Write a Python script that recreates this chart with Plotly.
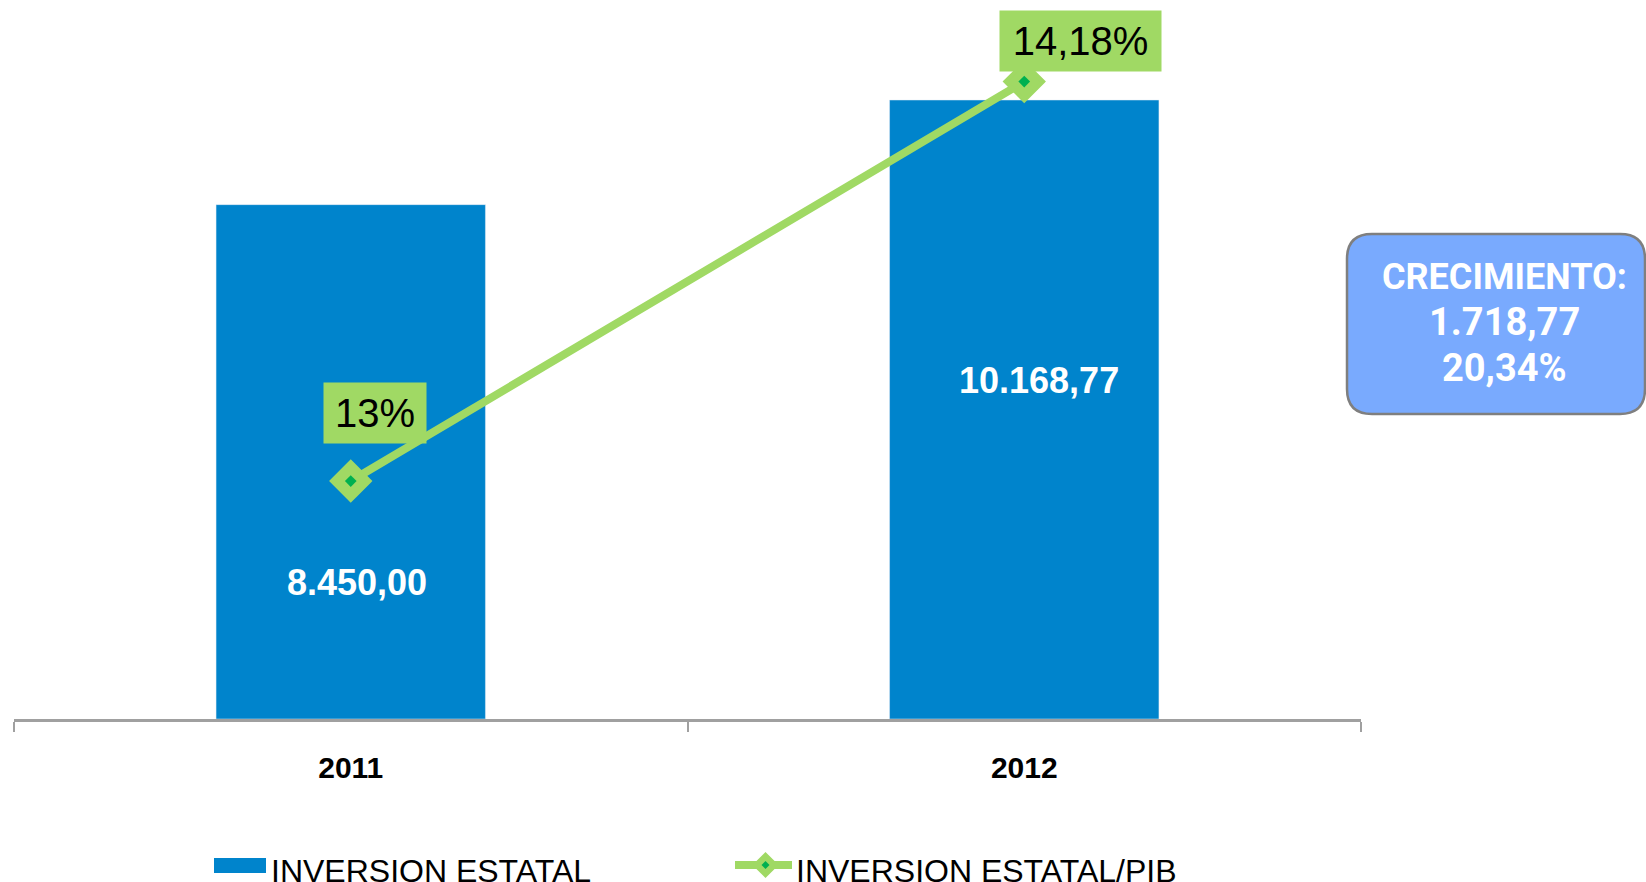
import plotly.graph_objects as go

# ---- data ----
years = ["2011", "2012"]
inversion = [8450.00, 10168.77]
inversion_labels = ["8.450,00", "10.168,77"]
pib_ratio = [13.00, 14.18]
pib_labels = ["13%", "14,18%"]
growth_lines = ["CRECIMIENTO:", "1.718,77", "20,34%"]
legend_names = ["INVERSION ESTATAL", "INVERSION ESTATAL/PIB"]

# ---- style ----
W, H = 1646, 882
L, R, T, B = 14, 285, 0, 163
PW, PH = W - L - R, H - T - B
BLUE = "#0084CC"
GREEN = "#A0D964"
DKGREEN = "#00B050"
AXIS_GRAY = "#A0A0A0"
ARIAL = "Liberation Sans, Arial, sans-serif"

def px2x(px):
    return (px - L) / PW

def py2y(py):
    return (H - B - py) / PH

fig = go.Figure()

fig.add_trace(go.Bar(
    x=years, y=inversion, name=legend_names[0], marker_color=BLUE,
    width=0.4, showlegend=False, hoverinfo="skip"))

fig.add_trace(go.Scatter(
    x=years, y=pib_ratio, name=legend_names[1], yaxis="y2",
    mode="lines+markers",
    line=dict(color=GREEN, width=8),
    marker=dict(symbol="diamond", size=29, color=GREEN,
                line=dict(color=GREEN, width=4)),
    showlegend=False, hoverinfo="skip"))

fig.add_trace(go.Scatter(
    x=years, y=pib_ratio, yaxis="y2", mode="markers",
    marker=dict(symbol="diamond", size=9, color=DKGREEN),
    showlegend=False, hoverinfo="skip"))

annotations = []
# bar value labels (pixel offsets from bar tops)
bar_label_shift = [(6, -378), (15, -280)]
for i, (v, lab, (dx, dy)) in enumerate(zip(inversion, inversion_labels, bar_label_shift)):
    annotations.append(dict(
        x=i, y=v, xref="x", yref="y", text=lab, showarrow=False,
        xshift=dx, yshift=dy, xanchor="center", yanchor="middle",
        font=dict(family=ARIAL, size=36, color="white", weight="bold")))

# ratio labels in green boxes
ratio_label_style = [(24, 68, 102, 60), (56, 41, 161, 60)]
for i, (v, lab, (dx, dy, bw, bh)) in enumerate(zip(pib_ratio, pib_labels, ratio_label_style)):
    annotations.append(dict(
        x=i, y=v, xref="x", yref="y2", text=lab, showarrow=False,
        xshift=dx, yshift=dy, xanchor="center", yanchor="middle",
        width=bw, height=bh, borderpad=0, bgcolor=GREEN, align="center",
        valign="middle",
        font=dict(family=ARIAL, size=40, color="black")))

# growth callout text
growth_sizes = [36, 38, 38]
for i, (line, fs) in enumerate(zip(growth_lines, growth_sizes)):
    annotations.append(dict(
        x=px2x(1504), y=py2y(277 + i * 45.4), xref="paper", yref="paper",
        text=line, showarrow=False, xanchor="center", yanchor="middle",
        font=dict(family="Roboto, DejaVu Sans, sans-serif", size=fs,
                  color="white", weight="bold")))

# legend texts
for name, px in zip(legend_names, [269, 794]):
    annotations.append(dict(
        x=px2x(px), y=py2y(871), xref="paper", yref="paper", text=name,
        showarrow=False, xanchor="left", yanchor="middle",
        font=dict(family=ARIAL, size=32, color="black")))

shapes = []
# callout rounded box
x0, x1, y0, y1, r = 1347, 1645, 234, 414, 25
def P(px, py):
    return f"{px2x(px)},{py2y(py)}"
path = (f"M {P(x0 + r, y0)} L {P(x1 - r, y0)} Q {P(x1, y0)} {P(x1, y0 + r)} "
        f"L {P(x1, y1 - r)} Q {P(x1, y1)} {P(x1 - r, y1)} "
        f"L {P(x0 + r, y1)} Q {P(x0, y1)} {P(x0, y1 - r)} "
        f"L {P(x0, y0 + r)} Q {P(x0, y0)} {P(x0 + r, y0)} Z")
shapes.append(dict(type="path", path=path, xref="paper", yref="paper",
                   fillcolor="#79AAFE", line=dict(color="#7F7F7F", width=2.5)))

# legend symbols
shapes.append(dict(type="rect", xref="paper", yref="paper",
                   x0=px2x(214), x1=px2x(266), y0=py2y(858), y1=py2y(873),
                   fillcolor=BLUE, line=dict(width=0)))
shapes.append(dict(type="line", xref="paper", yref="paper",
                   x0=px2x(735), x1=px2x(792), y0=py2y(865), y1=py2y(865),
                   line=dict(color=GREEN, width=8)))
def diamond(cx, cy, h):
    return (f"M {P(cx - h, cy)} L {P(cx, cy - h)} L {P(cx + h, cy)} "
            f"L {P(cx, cy + h)} Z")
shapes.append(dict(type="path", path=diamond(765.5, 865, 11), xref="paper",
                   yref="paper", fillcolor=GREEN, line=dict(color=GREEN, width=3)))
shapes.append(dict(type="path", path=diamond(765.5, 865, 4), xref="paper",
                   yref="paper", fillcolor=DKGREEN, line=dict(width=0)))

fig.update_layout(
    width=W, height=H,
    margin=dict(l=L, r=R, t=T, b=B, pad=0),
    paper_bgcolor="white", plot_bgcolor="white",
    showlegend=False,
    xaxis=dict(
        type="category", range=[-0.5, 1.5],
        showline=True, linecolor=AXIS_GRAY, linewidth=2.5,
        ticks="outside", tickson="boundaries", ticklen=10, tickwidth=1.5,
        tickcolor=AXIS_GRAY, ticklabelstandoff=20,
        tickfont=dict(family=ARIAL, size=30, color="black", weight="bold"),
        showgrid=False, zeroline=False, fixedrange=True),
    yaxis=dict(range=[0, 11811.6], visible=False, showgrid=False,
               zeroline=False),
    yaxis2=dict(range=[12.297, 14.421], overlaying="y", visible=False,
                showgrid=False, zeroline=False),
    annotations=annotations,
    shapes=shapes,
)

fig.write_html("out.html",
               config={"displayModeBar": False},
               post_script="document.body.style.margin='0';document.body.style.overflow='hidden';")
